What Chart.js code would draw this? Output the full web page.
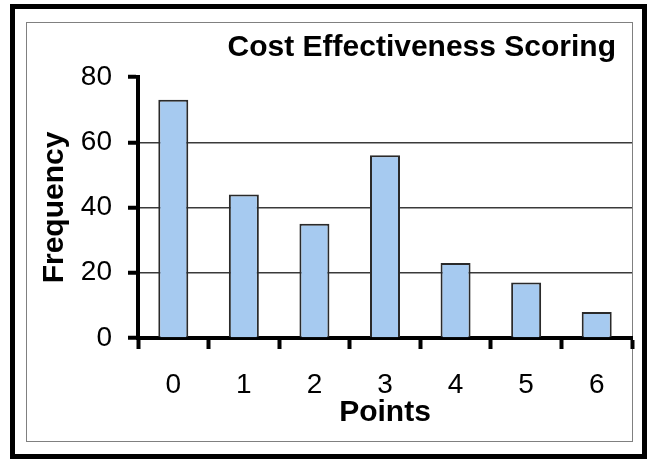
<!DOCTYPE html>
<html>
<head>
<meta charset="utf-8">
<title>Cost Effectiveness Scoring</title>
<script src="https://cdn.jsdelivr.net/npm/chart.js@4/dist/chart.umd.min.js"></script>
<style>
    body { margin: 0; background: #fff; }
    #wrap { position: relative; width: 650px; height: 460px; }
    #outerFrame { position: absolute; left: 10px; top: 4px; width: 637px; height: 455px; border: 5px solid #000; box-sizing: border-box; }
    #innerFrame { position: absolute; left: 26px; top: 22px; width: 607px; height: 420px; border: 1px solid #808080; box-sizing: border-box; }
    #scoreChart { position: absolute; left: 0; top: 0; }
</style>
</head>
<body>
<div id="wrap">
    <div id="outerFrame"></div>
    <div id="innerFrame"></div>
    <canvas id="scoreChart" width="650" height="460"></canvas>
</div>
<script>
//chart data
const chartTitle = 'Cost Effectiveness Scoring';
const points = ['0', '1', '2', '3', '4', '5', '6'];
const frequency = [73, 44, 35, 56, 23, 17, 8];
const yTicks = [0, 20, 40, 60, 80];

document.addEventListener('DOMContentLoaded', function() {
    Chart.defaults.font.family = "'Liberation Sans', Arial, sans-serif";
    Chart.defaults.color = '#000';

    //draws the title in the top right corner of the plot
    const cornerTitle = {
        id: 'cornerTitle',
        afterDraw(chart) {
            const ctx = chart.ctx;
            const area = chart.chartArea;
            ctx.save();
            ctx.font = "bold 30px 'Liberation Sans', Arial, sans-serif";
            ctx.fillStyle = '#000';
            ctx.textAlign = 'right';
            ctx.textBaseline = 'middle';
            ctx.fillText(chartTitle, area.right - 16, area.top - 29);
            ctx.restore();
        }
    };

    const ctx = document.getElementById('scoreChart').getContext('2d');
    new Chart(ctx, {
        type: 'bar',
        data: {
            labels: points,
            datasets: [{
                data: frequency,
                backgroundColor: '#a6caf0',
                borderColor: '#2a2a2a',
                borderWidth: 2,
                barPercentage: 0.425,
                categoryPercentage: 1
            }]
        },
        plugins: [cornerTitle],
        options: {
            responsive: false,
            animation: false,
            layout: {
                padding: { left: 0, right: 18, top: 77, bottom: 0 }
            },
            plugins: {
                legend: { display: false },
                tooltip: { enabled: false }
            },
            scales: {
                x: {
                    afterFit: function(scale) { scale.height = 122; },
                    grid: {
                        offset: true,
                        drawOnChartArea: false,
                        tickLength: 11,
                        tickWidth: 4,
                        tickColor: '#000'
                    },
                    border: { color: '#000', width: 4 },
                    ticks: {
                        font: { size: 28 },
                        padding: 19
                    },
                    title: {
                        display: true,
                        text: 'Points',
                        font: { size: 30, weight: 'bold' },
                        padding: { top: 0, bottom: 29 }
                    }
                },
                y: {
                    min: yTicks[0],
                    max: yTicks[yTicks.length - 1],
                    afterFit: function(scale) { scale.width = 138; },
                    afterBuildTicks: function(scale) {
                        scale.ticks = yTicks.map(v => ({ value: v }));
                    },
                    grid: {
                        color: function(c) {
                            const v = c.tick ? c.tick.value : null;
                            return (v === yTicks[0] || v === yTicks[yTicks.length - 1]) ? 'transparent' : '#3a3a3a';
                        },
                        lineWidth: 1.5,
                        tickLength: 10,
                        tickWidth: 4,
                        tickColor: '#000'
                    },
                    border: { color: '#000', width: 4 },
                    ticks: {
                        font: { size: 28 },
                        padding: 16
                    },
                    title: {
                        display: true,
                        text: 'Frequency',
                        font: { size: 30, weight: 'bold' },
                        padding: { top: 37, bottom: 0 }
                    }
                }
            }
        }
    });
});
</script>
</body>
</html>
